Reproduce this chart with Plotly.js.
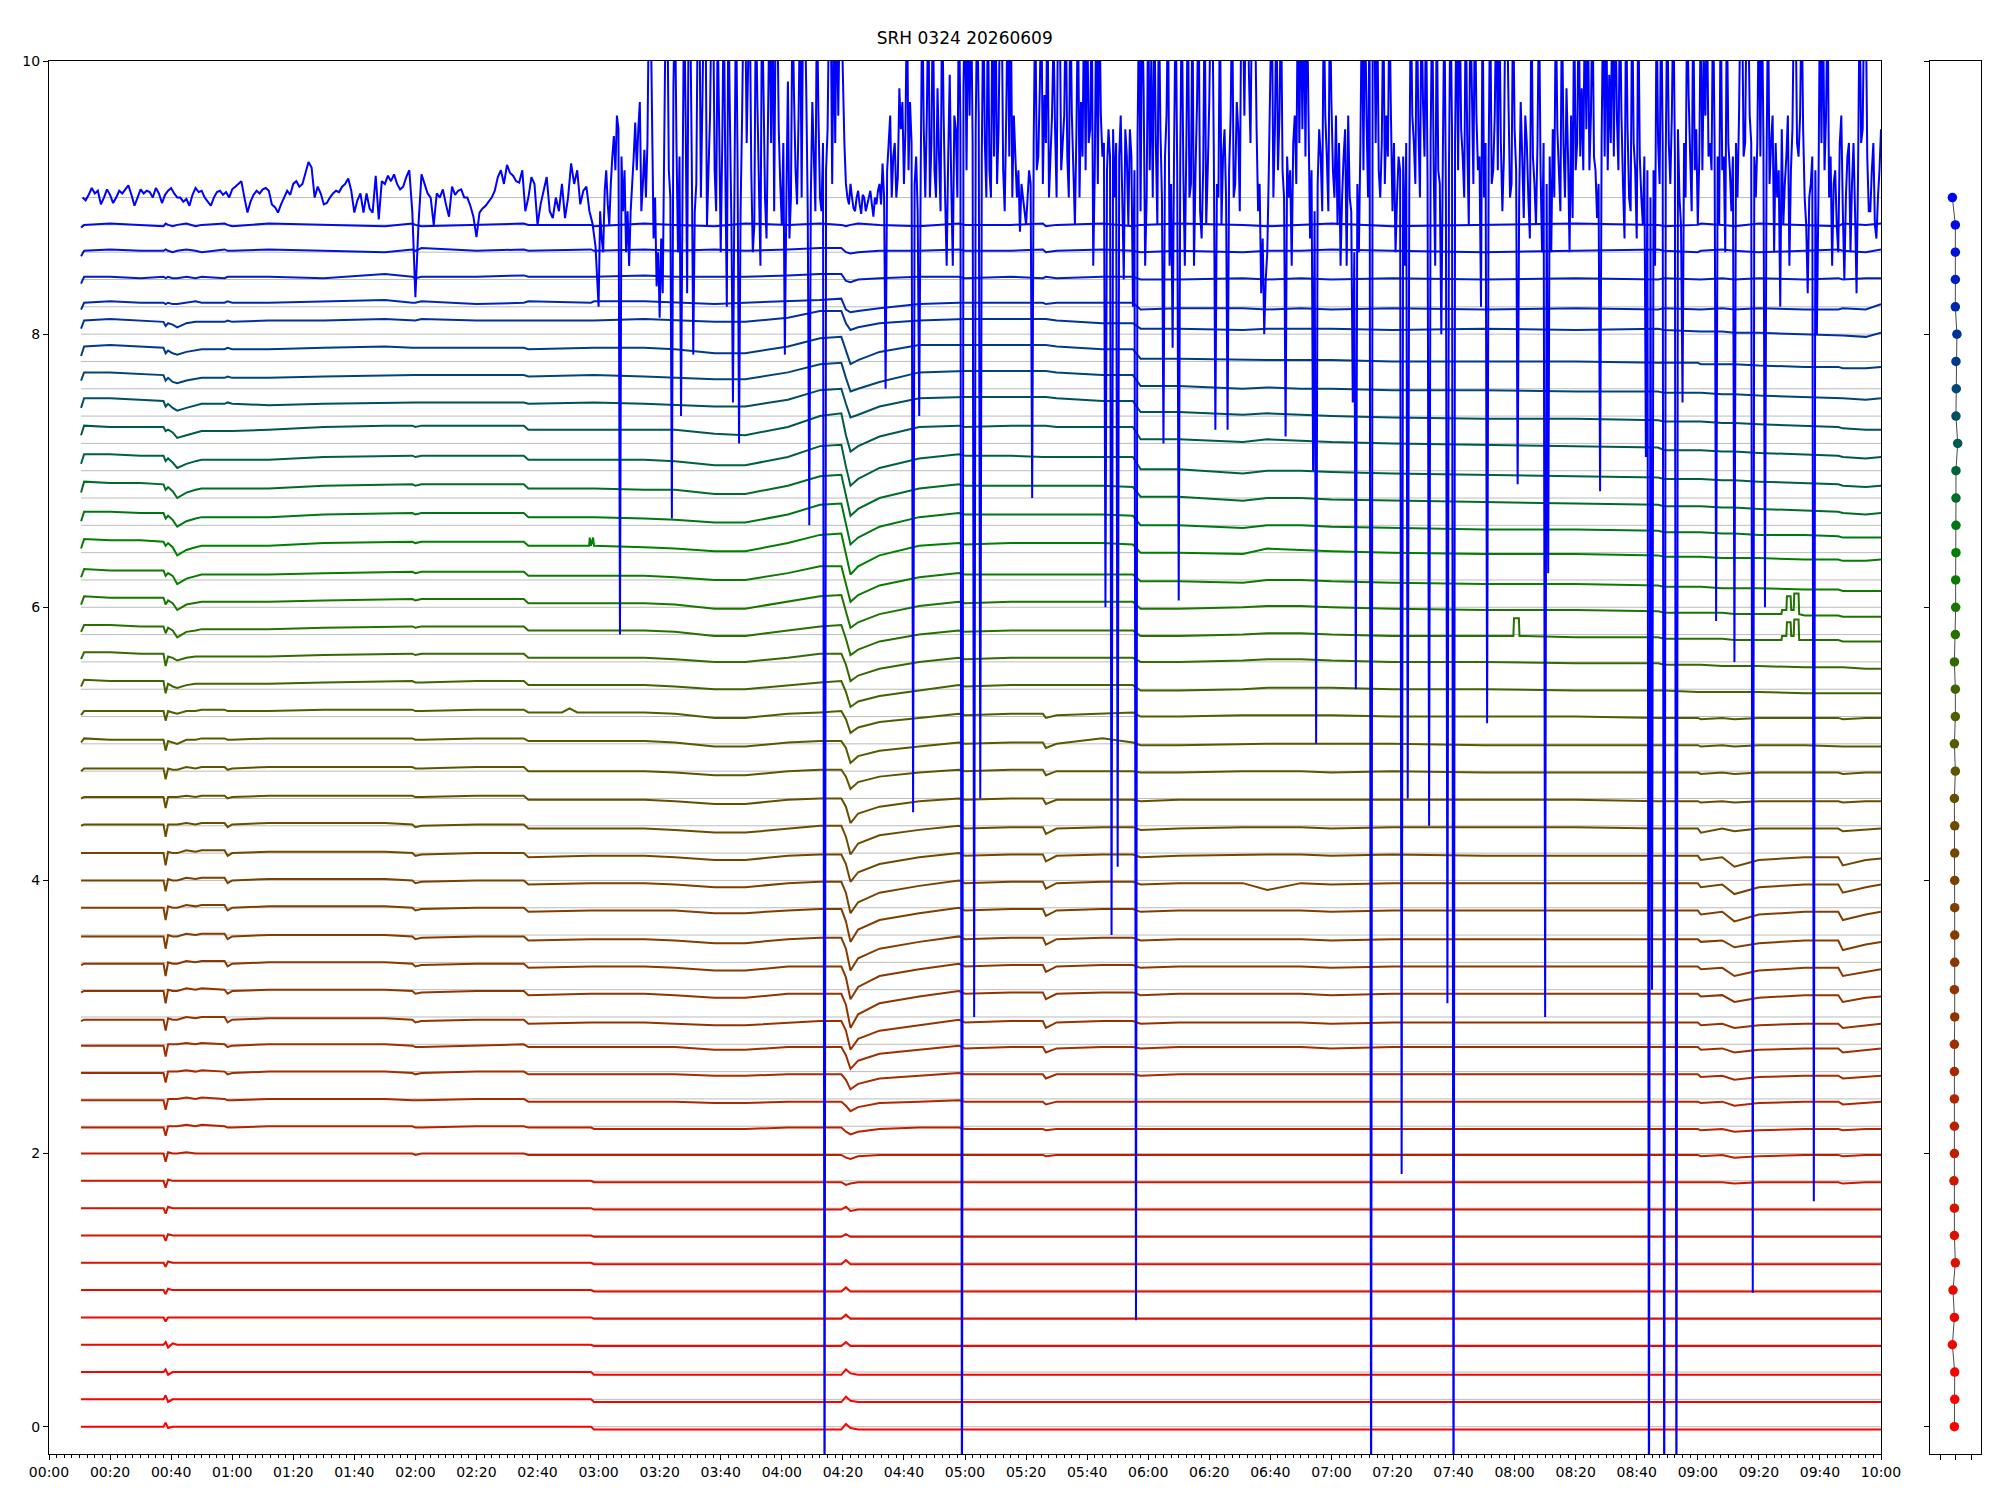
<!DOCTYPE html>
<html>
<head>
<meta charset="utf-8">
<script src="https://cdn.plot.ly/plotly-3.0.1.min.js"></script>
<style>
html,body{margin:0;padding:0;background:#fff;}
#chart{width:2000px;height:1500px;}
</style>
</head>
<body>
<div id="chart"></div>
<script>
// ---------------- DATA ----------------
const titleText = 'SRH 0324 20260609';

// channel levels (stack offsets), bottom to top
const channelOffsets = [0.0,0.2,0.4,0.6,0.8,1.0,1.2,1.4,1.6,1.8,2.0,2.2,2.4,2.6,2.8,3.0,3.2,3.4,3.6,3.8,
  4.0,4.2,4.4,4.6,4.8,5.0,5.2,5.4,5.6,5.8,6.0,6.2,6.4,6.6,6.8,7.0,7.2,7.4,7.6,7.8,8.0,8.2,8.4,8.6,8.8,9.0];

// sample times (minutes after 00:00) shared by channels 0..44
const gridMinutes = [10.5,11.5,20,30, 37.5,38.2,39,40.5,42,45,48,50,57.5,58.5,60, 72,90,110,119,120,122,140,155.5,157,
  177.5,178.5,195,205,218,228,242, 252.5,259.5,261,262.5,265,272,285,298,300,
  315,325.5,326.5,330,345,355,357.5,370,391,399,
  410,420,440,470,500,527,529,540,541,548,552,560,575,586,587.5,595,600];

// deviations of each channel from its level, in units of 0.01
const ch00 = [0,0,0,0, 0,3,-1,0,0,0,0,0,0,0,0, 0,0,0,0,0,0,0,0,0, 0,-2,-2,-2,-2,-2,-2, -2,-2,2,-1,-2,-2,-2,-2,-2, -2,-2,-2,-2,-2,-2,-2,-2,-2,-2, -2,-2,-2,-2,-2,-2,-2,-2,-2,-2,-2,-2,-2,-2,-2,-2,-2];
const ch01 = [0,0,0,0, 0,3,-2,0,0,0,0,0,0,0,0, 0,0,0,0,0,0,0,0,0, 0,-2,-2,-2,-2,-2,-2, -2,-2,2,-1,-2,-2,-2,-2,-2, -2,-2,-2,-2,-2,-2,-2,-2,-2,-2, -2,-2,-2,-2,-2,-2,-2,-2,-2,-2,-2,-2,-2,-2,-2,-2,-2];
const ch02 = [0,0,0,0, 0,2,-2,0,0,0,0,0,0,0,0, 0,0,0,0,0,0,0,0,0, 0,-2,-2,-2,-2,-2,-2, -2,-2,2,-1,-2,-2,-2,-2,-2, -2,-2,-2,-2,-2,-2,-2,-2,-2,-2, -2,-2,-2,-2,-2,-2,-2,-2,-2,-2,-2,-2,-2,-2,-2,-2,-2];
const ch03 = [0,0,0,0, 0,2,-2,1,0,0,0,0,0,0,0, 0,0,0,0,0,0,0,0,0, 0,-1,-1,-1,-1,-1,-1, -1,-1,2,-1,-1,-1,-1,-1,-1, -1,-1,-1,-1,-1,-1,-1,-1,-1,-1, -1,-1,-1,-1,-1,-1,-1,-1,-1,-1,-1,-1,-1,-1,-1,-1,-1];
const ch04 = [0,0,0,0, 0,-3,0,0,0,0,0,0,0,0,0, 0,0,0,0,0,0,0,0,0, 0,-1,-1,-1,-1,-1,-1, -1,-1,2,-1,-1,-1,-1,-1,-1, -1,-1,-1,-1,-1,-1,-1,-1,-1,-1, -1,-1,-1,-1,-1,-1,-1,-1,-1,-1,-1,-1,-1,-1,-1,-1,-1];
const ch05 = [0,0,0,0, 0,-3,1,0,0,0,0,0,0,0,0, 0,0,0,0,0,0,0,0,0, 0,-1,-1,-1,-1,-1,-1, -1,-1,2,-1,-1,-1,-1,-1,-1, -1,-1,-1,-1,-1,-1,-1,-1,-1,-1, -1,-1,-1,-1,-1,-1,-1,-1,-1,-1,-1,-1,-1,-1,-1,-1,-1];
const ch06 = [0,0,0,0, 0,-3,1,0,0,0,0,0,0,0,0, 0,0,0,0,0,0,0,0,0, 0,-1,-1,-1,-1,-1,-1, -1,-1,2,-1,-1,-1,-1,-1,-1, -1,-1,-1,-1,-1,-1,-1,-1,-1,-1, -1,-1,-1,-1,-1,-1,-1,-1,-1,-1,-1,-1,-1,-1,-1,-1,-1];
const ch07 = [0,0,0,0, 0,-4,1,0,0,0,0,0,0,0,0, 0,0,0,0,0,0,0,0,0, 0,-1,-1,-1,-1,-1,-1, -1,-1,1,-1,-1,-1,-1,-1,-1, -1,-1,-1,-1,-1,-1,-1,-1,-1,-1, -1,-1,-1,-1,-1,-1,-1,-1,-1,-1,-1,-1,-1,-1,-1,-1,-1];
const ch08 = [0,0,0,0, 0,-4,1,0,0,0,0,0,0,0,0, 0,0,0,0,0,0,0,0,0, 0,-1,-1,-1,-1,-1,-1, -1,-1,1,-2,-1,-1,-1,-1,-1, -1,-1,-1,-1,-1,-1,-1,-1,-1,-1, -1,-1,-1,-1,-1,-1,-1,-1,-1,-1,-1,-1,-1,-1,-1,-1,-1];
const ch09 = [0,0,0,0, 0,-5,1,0,0,0,0,0,0,0,0, 0,0,0,0,0,0,0,0,0, 0,-1,-1,-1,-1,-1,-1, -1,-1,-3,-2,-1,-1,-1,-1,-1, -1,-1,-1,-1,-1,-1,-1,-1,-1,-1, -1,-1,-1,-1,-1,-1,-1,-1,-1,-1,-2,-1,-1,-1,-2,-1,-1];
const ch10 = [0,0,0,0, 0,-6,1,0,0,1,0,0,0,0,0, 0,0,0,0,-1,0,0,0,-1, -1,-1,-1,-1,-1,-1,-1, -1,-1,-3,-4,-2,-1,-1,-1,-1, -1,-1,-2,-1,-1,-1,-1,-1,-1,-1, -1,-1,-1,-1,-1,-1,-1,-1,-2,-1,-3,-2,-1,-1,-2,-1,-1];
const ch11 = [-1,-1,-1,-1, -1,-7,0,0,0,1,0,1,0,-1,-1, 0,0,0,0,-1,-1,0,0,-1, -1,-2,-2,-2,-2,-2,-1, -1,-1,-4,-6,-4,-2,-1,-1,-2, -2,-2,-3,-2,-2,-2,-2,-2,-2,-2, -2,-2,-2,-2,-2,-2,-2,-2,-3,-2,-4,-3,-2,-2,-3,-2,-2];
const ch12 = [-1,-1,-1,-1, -1,-8,0,0,0,1,0,1,0,-1,-1, 0,0,0,-1,-1,-1,0,0,-2, -2,-2,-2,-2,-3,-3,-2, -2,-2,-5,-9,-6,-3,-2,-1,-2, -2,-2,-4,-2,-2,-2,-2,-2,-2,-2, -2,-2,-2,-2,-2,-2,-2,-2,-3,-2,-5,-3,-2,-2,-4,-3,-2];
const ch13 = [-1,-1,-1,-1, -1,-8,0,0,0,1,0,1,0,-2,-1, 0,0,0,-1,-2,-1,0,0,-2, -2,-2,-2,-2,-3,-3,-2, -2,-2,-6,-13,-9,-5,-3,-1,-2, -2,-2,-5,-2,-2,-2,-3,-2,-2,-2, -2,-2,-2,-2,-2,-2,-2,-2,-4,-3,-6,-4,-3,-3,-5,-4,-3];
const ch14 = [-1,-1,-1,-1, -1,-9,0,0,0,1,0,1,0,-2,-1, 0,0,0,-1,-2,-2,-1,0,-2, -2,-2,-2,-2,-4,-4,-2, -2,-2,-8,-18,-12,-7,-4,-1,-3, -2,-2,-6,-3,-2,-2,-3,-2,-2,-2, -2,-3,-2,-2,-2,-2,-2,-2,-4,-3,-6,-4,-3,-3,-6,-4,-3];
const ch15 = [-3,-2,-2,-2, -2,-10,-1,-2,-2,0,-1,0,0,-4,-2, -1,-1,-1,-2,-4,-3,-2,-2,-5, -4,-4,-4,-5,-6,-6,-4, -3,-3,-10,-24,-16,-10,-6,-2,-4, -3,-3,-8,-4,-3,-3,-5,-4,-4,-4, -4,-5,-4,-4,-4,-4,-4,-4,-6,-5,-8,-6,-5,-5,-8,-6,-5];
const ch16 = [-2,-1,-1,-1, -1,-10,0,-1,-1,1,0,1,0,-3,-1, 0,0,0,-1,-3,-2,-1,-1,-4, -3,-3,-3,-4,-6,-6,-3, -3,-3,-11,-28,-18,-10,-5,-1,-3, -2,-2,-7,-3,-2,-2,-4,-3,-3,-3, -3,-4,-3,-3,-3,-3,-3,-3,-5,-4,-9,-6,-4,-4,-9,-6,-5];
const ch17 = [-2,-1,-1,-1, -1,-10,0,-1,-1,1,0,1,1,-3,-1, 0,0,0,-1,-3,-2,-1,-1,-4, -3,-3,-3,-4,-6,-6,-3, -3,-3,-11,-27,-18,-10,-5,-1,-3, -2,-2,-7,-3,-2,-2,-4,-3,-3,-3, -3,-4,-3,-3,-3,-3,-3,-3,-5,-4,-10,-6,-4,-4,-10,-7,-5];
const ch18 = [-1,-1,-1,-1, -1,-10,0,-1,-1,1,0,1,1,-3,-1, 0,0,0,-1,-3,-2,-1,-1,-4, -3,-3,-3,-4,-6,-6,-3, -2,-2,-10,-26,-17,-10,-5,-1,-3, -2,-2,-7,-3,-2,-2,-4,-3,-3,-3, -3,-4,-3,-3,-3,-3,-3,-3,-5,-4,-9,-6,-4,-4,-11,-7,-5];
const ch19 = [0,0,0,0, 0,-9,1,0,0,2,1,2,2,-2,0, 1,1,1,0,-2,-1,0,0,-3, -2,-2,-2,-2,-4,-4,-2, -1,-1,-10,-25,-16,-9,-4,0,-2, -1,-1,-6,-2,-1,-1,-3,-2,-2,-2, -2,-3,-2,-2,-2,-2,-2,-2,-5,-3,-10,-5,-3,-3,-9,-5,-3];
const ch20 = [0,0,0,0, 0,-8,1,0,0,2,1,2,2,-2,0, 1,1,1,0,-2,-1,0,0,-3, -2,-2,-2,-3,-5,-5,-2, -1,-1,-9,-24,-16,-9,-4,0,-2, -1,-1,-6,-2,-1,-1,-3,-2,-2,-7, -2,-3,-2,-2,-2,-2,-2,-2,-5,-3,-10,-5,-3,-3,-9,-5,-3];
const ch21 = [0,0,0,0, 0,-9,1,0,0,2,1,2,2,-2,0, 1,1,1,0,-2,-1,0,0,-3, -2,-2,-2,-3,-5,-5,-2, -1,-1,-8,-21,-14,-8,-3,0,-2, -1,-1,-6,-2,-1,-1,-3,-2,-1,-1, -1,-2,-1,-2,-2,-2,-2,-2,-5,-3,-10,-5,-3,-3,-9,-5,-4];
const ch22 = [0,1,1,1, 1,-8,1,1,1,2,1,2,2,-1,1, 2,2,2,1,-1,0,1,1,-2, -2,-2,-2,-3,-5,-5,-2, 0,0,-8,-21,-13,-7,-3,0,-2, -1,-1,-6,-2,-1,-1,-3,-2,-1,-1, -1,-2,-1,-1,-1,-2,-2,-2,-5,-2,-4,-2,-2,-2,-4,-3,-2];
const ch23 = [0,1,1,1, 1,-7,1,1,1,2,1,2,2,0,1, 2,2,2,2,1,1,2,2,-1, -1,-1,-1,-2,-4,-4,-1, 0,0,-6,-18,-11,-6,-2,0,-1, 0,0,-4,-1,-1,-1,-2,-1,-1,-1, -1,-1,-1,-1,-1,-2,-2,-2,-3,-2,-3,-2,-2,-2,-3,-2,-2];
const ch24 = [0,2,2,2, 2,-6,2,1,1,3,2,3,3,1,2, 3,3,3,3,2,2,3,3,0, 0,0,0,-1,-3,-3,0, 1,1,-4,-13,-8,-4,-1,1,0, 1,1,-3,0,0,0,-1,-1,0,0, 0,-1,0,-1,-1,-1,-1,-1,-2,-1,-2,-1,-1,-1,-2,-1,-1];
const ch25 = [1,4,3,3, 3,-5,2,1,0,3,3,4,4,3,3, 4,4,4,4,3,3,4,4,2, 2,2,2,1,-2,-2,1, 2,2,-3,-14,-9,-5,-2,1,0, 1,1,-3,0,4,1,-1,-1,0,0, 0,0,0,-1,-1,-1,-1,-1,-2,-1,-2,-1,-1,-2,-2,-2,-2];
const ch26 = [1,4,4,4, 4,-3,4,3,2,4,4,5,5,4,4, 4,5,5,5,4,4,5,5,3, 3,3,3,2,-1,-1,2, 3,4,-2,-12,-8,-4,-1,2,1, 2,2,-1,1,2,3,0,0,1,1, 1,1,0,0,0,-1,-1,-1,-2,-1,-2,-1,-1,-1,-2,-1,-1];
const ch27 = [2,7,6,6, 6,-3,4,2,1,3,4,4,4,4,4, 4,5,6,6,5,5,6,6,3, 3,3,3,2,0,0,3, 5,6,-2,-13,-9,-5,-1,3,2, 3,3,3,3,3,3,-1,-1,0,1, 1,1,0,0,-1,-1,-1,-2,-2,-2,-2,-2,-3,-3,-3,-3,-3];
const ch28 = [2,7,7,6, 6,-3,4,3,1,3,4,4,4,4,4, 4,5,6,6,5,6,6,6,3, 3,3,3,2,0,0,3, 6,6,-2,-14,-10,-5,0,3,2, 3,3,3,3,3,3,0,0,1,2, 2,1,0,0,-1,-1,-2,-2,-2,-3,-3,-3,-4,-4,-4,-5,-5];
const ch29 = [2,7,7,6, 6,1,5,3,-2,2,3,4,4,4,4, 4,5,6,6,5,6,6,6,3, 3,3,3,2,-1,-1,3, 6,7,-3,-15,-11,-5,0,3,2, 3,3,3,3,3,3,-1,-1,0,1, 1,0,-1,-1,-2,-2,-3,-3,-3,-3,-4,-4,-4,-4,-5,-5,-5];
const ch30 = [2,8,7,7, 7,2,5,3,-2,2,3,4,4,4,4, 4,5,6,6,5,6,6,6,3, 3,3,3,2,-1,-1,4, 8,9,-3,-15,-11,-5,1,4,3, 4,4,4,4,4,4,-1,-1,0,1, 1,0,-1,-2,-2,-3,-4,-4,-4,-4,-5,-5,-6,-6,-7,-7,-7];
const ch31 = [2,8,7,7, 7,3,5,3,-3,1,3,4,4,4,4, 4,5,6,6,5,6,6,6,3, 3,3,3,2,0,0,5, 10,10,-3,-16,-11,-4,2,5,4, 4,4,4,4,4,4,-1,-1,-2,0, 0,-1,-2,-3,-3,-4,-5,-5,-5,-6,-6,-6,-7,-7,-8,-8,-8];
const ch32 = [3,10,9,9, 8,5,7,4,-2,2,4,5,5,5,5, 5,7,8,8,7,8,8,8,5, 5,5,4,3,1,1,7, 13,14,0,-16,-10,-2,5,7,6, 7,7,7,7,7,6,0,0,-1,3, 2,1,0,-1,-1,-2,-3,-3,-3,-4,-4,-4,-5,-5,-6,-6,-5];
const ch33 = [3,10,10,9, 9,5,7,4,-1,3,5,6,6,6,6, 6,8,9,9,8,9,9,9,6, 6,6,5,4,2,2,8, 15,16,1,-14,-9,-1,6,9,8, 8,8,8,8,8,7,0,0,-2,0, 0,-1,-2,-3,-3,-4,-5,-5,-5,-6,-6,-7,-7,-8,-9,-9,-9];
const ch34 = [4,12,11,11, 10,6,8,5,0,4,6,7,7,7,7, 7,9,10,10,9,10,10,10,7, 7,7,6,6,3,3,9, 16,17,2,-13,-8,0,7,10,9, 9,9,9,9,9,8,1,1,-2,0, 0,-1,-2,-3,-4,-5,-6,-6,-6,-7,-7,-8,-9,-10,-11,-12,-11];
const ch35 = [5,12,12,11, 11,7,9,6,2,5,7,8,8,8,8, 8,10,11,11,10,11,11,11,8, 8,8,8,7,4,4,10, 18,19,3,-11,-6,2,9,12,11, 11,10,10,10,10,10,1,1,-2,0, 0,-1,-2,-3,-4,-5,-6,-6,-6,-7,-7,-8,-9,-10,-11,-12,-11];
const ch36 = [6,13,12,12, 12,9,10,8,4,6,8,9,9,9,9, 10,12,13,13,12,13,13,13,10, 10,10,10,10,7,6,12, 20,22,6,-6,-2,5,12,13,12, 13,13,13,12,12,12,3,3,1,3, 2,1,0,-1,-2,-3,-5,-5,-5,-6,-6,-7,-8,-9,-10,-11,-10];
const ch37 = [6,13,13,12, 11,7,9,6,4,6,8,9,9,10,9, 8,9,10,10,10,10,10,10,9, 10,10,9,8,7,7,12, 19,20,9,-1,1,7,13,14,14, 14,14,14,13,11,11,3,3,1,2, 1,0,-1,-2,-2,-3,-4,-4,-4,-5,-5,-6,-7,-8,-9,-10,-10];
const ch38 = [6,12,12,11, 10,6,8,5,4,6,7,8,8,9,8, 8,9,10,10,10,10,10,10,9, 10,10,9,8,7,7,12, 18,19,8,-2,0,5,12,13,13, 13,13,13,12,10,10,2,2,0,1, 0,0,-1,-1,-2,-2,-3,-3,-3,-4,-4,-5,-6,-7,-7,-8,-7];
const ch39 = [4,11,12,11, 10,6,8,6,5,7,8,9,9,10,9, 9,10,11,10,10,10,10,10,9, 10,10,10,9,6,6,11, 17,18,8,-2,1,7,12,12,12, 12,12,12,11,9,9,2,2,1,1, 1,1,0,0,0,-1,-1,-1,-2,-2,-2,-3,-4,-4,-5,-5,-4];
const ch40 = [4,10,11,10, 9,6,8,7,5,8,9,9,9,10,9, 10,10,11,10,10,11,10,10,10, 10,10,11,10,9,9,12, 17,17,8,3,5,8,10,11,11, 11,11,11,10,8,8,4,4,3,4, 4,4,3,4,3,4,3,2,2,2,1,1,0,-1,-1,-2,1];
const ch41 = [-2,3,4,3, 3,2,3,2,2,3,4,3,3,4,3, 3,4,5,3,3,4,2,3,4, 3,4,4,3,2,3,4, 5,6,-2,-4,-3,-1,2,3,3, 3,3,2,3,3,3,-2,-1,-1,-2, -1,-2,-1,-2,-1,-2,-1,-2,-2,-1,-2,-1,-2,-2,-1,-2,2];
const ch42 = [-3,2,2,1, 2,1,2,1,1,2,1,2,1,2,2, 2,1,4,2,1,2,2,3,2, 2,2,3,2,2,2,3, 4,4,-1,-2,0,1,2,2,1, 2,1,2,1,2,2,0,0,1,0, 1,0,1,0,1,0,1,0,0,1,0,1,0,1,0,1,1];
const ch43 = [-3,1,2,1, 1,2,1,0,1,2,1,0,2,1,1, 2,1,0,2,1,3,1,2,1, 2,1,2,1,2,1,2, 3,3,0,-1,0,1,1,2,1, 1,2,0,1,2,1,0,1,0,1, 1,2,1,0,1,2,1,0,1,2,1,0,1,2,1,0,2];
const ch44 = [-2,0,1,0, -1,1,0,-1,0,1,-1,0,1,0,-1, 1,0,-1,1,0,-1,0,1,0, 0,-1,1,0,-1,1,0, 1,0,-1,0,1,0,-1,1,0, 0,1,-1,0,1,-1,0,1,0,-1, 0,1,-1,0,1,0,-1,0,1,0,-1,1,0,-1,1,0,1];

// short pulses / bumps on single channels (minutes, deviation in 0.01)
const bumpT26 = [168,170.5,173];            const bumpV26 = [3,6,3];
const pulseT29 = [479.6,479.8,481.4,481.6, 567.4,567.6,569.0,569.2,570.4,570.6,571.4,571.6,573.0,573.2];
const pulseV29 = [-1,12,12,-1, -4,-1,-1,9,9,-1,-1,11,11,-4];
const pulseT30 = [567.4,567.6,569.0,569.2,570.4,570.6,571.4,571.6,573.0,573.2];
const pulseV30 = [-5,-2,-2,8,8,-2,-2,10,10,-5];
const pulseT32 = [176.9,177.1,178.2,178.4]; const pulseV32 = [5,11,11,5];

// top channel (level 9.0): one sample per minute from minute 11 to 600 (absolute values)
const topStartMinute = 11;
const topValues = [
9.0,8.98,9.02,9.07,9.03,9.05,8.95,9.0,9.06,9.02,
8.96,9.0,9.05,9.03,9.06,9.09,9.02,8.94,9.0,9.06,
9.03,9.05,9.04,9.0,9.07,9.03,8.96,9.02,9.05,9.07,
9.03,9.0,9.0,8.97,8.99,8.94,9.02,9.07,9.04,9.05,
9.0,8.97,8.94,9.0,9.04,9.05,9.02,9.04,9.0,9.06,
9.08,9.1,9.12,9.0,8.89,8.97,9.02,9.05,9.03,9.06,
9.07,9.05,8.95,8.93,8.89,8.95,9.0,9.05,9.02,9.1,
9.12,9.08,9.1,9.18,9.26,9.22,9.0,9.08,9.03,8.95,
8.96,9.0,9.03,9.05,9.04,9.08,9.1,9.14,9.05,8.89,
8.98,9.03,8.89,9.03,8.92,8.89,9.16,8.84,9.12,9.1,
9.16,9.12,9.17,9.1,9.06,9.08,9.15,9.2,8.89,8.27,
8.8,9.17,9.1,9.03,9.0,8.8,9.03,9.0,9.06,8.95,
8.86,9.08,9.02,9.05,9.06,9.0,9.0,8.94,8.86,8.71,
8.89,8.92,8.94,8.97,9.0,9.05,9.15,9.2,9.1,9.24,
9.18,9.16,9.12,9.11,9.2,8.9,9.0,9.15,9.1,8.8,
8.95,9.05,9.15,8.9,8.85,9.0,8.9,9.1,8.85,9.0,
9.25,9.1,9.2,8.95,9.05,9.08,8.9,8.81,8.64,8.2,
8.7,9.05,8.95,9.1,9.45,9.6,5.8,8.9,8.6,8.5,
9.1,9.55,9.5,8.9,9.35,9.4,10.5,8.7,8.35,8.12,
8.3,10.5,9.2,6.65,10.5,8.6,7.4,10.5,8.3,10.4,
7.85,9.1,10.5,9.7,10.5,9.2,10.5,9.2,10.3,8.6,
10.5,8.2,9.6,7.5,10.5,7.2,9.6,10.5,10.0,9.2,
8.8,9.7,8.5,9.8,8.7,10.5,10.5,10.4,9.5,8.8,
7.85,9.85,9.0,9.75,8.95,10.5,10.5,9.8,6.6,9.7,
8.9,9.6,8.9,-1,9.5,10.5,10.3,10.5,10.5,9.9,
9.1,8.95,9.0,8.9,9.05,8.88,9.0,8.95,9.05,8.86,
8.95,9.1,9.25,7.6,9.4,9.0,9.4,9.15,9.5,9.1,
10.5,9.7,4.5,9.3,7.4,10.5,9.0,10.5,9.4,9.2,
9.8,8.9,9.6,8.5,9.9,8.5,9.5,10.5,-1,10.5,
10.5,10.5,3.0,10.5,4.6,10.5,9.0,9.2,10.5,10.5,
9.5,10.5,8.9,10.5,10.5,9.6,9.0,8.75,9.0,8.8,
9.2,6.8,10.5,9.3,10.5,9.75,10.5,9.3,10.2,9.0,
10.5,9.4,10.5,9.0,9.6,8.8,10.5,9.7,10.5,10.5,
9.5,8.5,10.5,10.5,9.3,6.0,9.5,3.6,9.0,4.1,
9.6,8.4,9.3,9.5,8.2,0.78,10.5,10.5,8.5,10.5,
10.0,10.5,8.8,9.5,7.2,9.6,8.5,7.9,10.5,6.05,
10.5,8.5,10.5,9.1,8.5,9.7,8.9,9.2,8.8,9.7,
10.5,7.3,9.0,8.8,9.5,7.3,9.6,9.0,9.7,8.9,
10.5,10.5,9.9,10.5,10.4,8.9,8.3,8.0,8.6,9.9,
9.0,10.5,9.6,9.2,7.25,9.0,8.5,9.6,10.5,10.5,
10.5,10.5,8.7,7.0,5.0,9.5,8.9,9.6,8.9,9.7,
9.0,8.8,8.5,9.3,8.5,9.0,7.5,5.4,8.6,10.5,
10.5,9.0,-1,10.5,10.5,9.0,10.5,9.6,10.5,8.9,
8.6,9.3,1.85,8.5,4.6,10.5,9.4,10.5,9.0,9.7,
10.5,4.4,10.5,8.5,9.2,8.0,10.5,3.1,10.5,-1,
10.5,10.5,9.3,10.5,8.8,9.8,10.5,9.2,8.2,9.0,
5.15,10.5,9.2,10.5,10.5,8.9,10.5,9.7,9.1,9.5,
6.9,9.7,8.85,9.4,8.7,9.3,8.8,10.5,8.6,3.0,
6.25,8.6,9.0,9.5,8.9,9.4,9.8,8.6,8.85,9.2,
10.5,9.8,10.5,10.5,9.6,9.3,8.85,6.85,10.5,10.5,
9.9,10.5,10.5,9.2,9.6,8.7,9.5,8.9,9.4,8.7,
9.3,8.8,7.1,-1,3.2,8.5,9.4,10.5,-1,10.5,
9.1,10.5,-1,9.0,7.5,9.0,9.75,8.9,9.2,8.8,
10.5,10.0,10.5,9.4,10.5,5.9,8.8,9.2,8.6,9.4,
8.9,5.6,9.0,10.5,9.3,10.5,9.6,0.98,9.0,10.5,
10.5,6.0,10.5,9.4,8.6,9.0,8.2,8.8,9.3,8.5,
9.5,10.5,9.3,10.5,9.0,8.3,9.1,1.65,8.0,10.5,
10.5,9.6,9.0,8.5,9.2,8.6,9.6,8.4,9.3,8.6,
9.4,8.3,10.5,9.5,10.5,8.9,9.2,8.8,9.0,9.5
];
// top channel, extra half-minute samples from minute 180.5 to 599.5 (absolute values)
const topHalfStartMinute = 180.5;
const topHalfValues = [
8.9,8.6,9.2,8.8,9.3,9.2,9.5,9.3,9.2,8.9,
8.9,9.3,9.2,9.7,9.1,9.0,10.5,9.6,9.0,8.6,
8.7,9.4,10.5,9.0,9.8,9.4,9.3,9.1,9.6,10.5,
9.3,8.9,10.5,9.0,10.5,8.8,9.6,10.5,8.9,9.5,
9.4,9.2,10.5,8.8,9.1,9.3,8.9,10.5,9.4,10.5,
8.6,10.5,9.1,10.5,9.0,9.6,9.4,8.9,10.5,9.1,
9.4,9.0,8.7,10.5,9.2,9.6,9.0,10.5,8.9,9.0,
9.3,10.5,9.0,9.4,9.2,10.5,9.1,9.4,9.6,10.5,
9.4,9.0,9.1,8.92,9.0,8.95,9.02,8.9,9.0,8.95,
9.0,9.05,8.95,9.0,9.2,9.6,9.3,9.0,9.8,9.7,
9.5,9.2,9.4,9.1,8.9,9.2,9.5,9.6,9.0,10.5,
9.0,9.3,10.5,9.0,9.3,9.1,9.6,9.0,9.5,9.8,
9.2,9.6,9.4,9.5,9.6,9.3,9.4,10.5,9.0,9.3,
9.1,10.5,9.2,9.6,9.3,9.0,9.3,9.2,9.1,8.9,
9.0,9.1,9.4,9.2,9.8,9.1,9.4,9.0,9.6,9.5,
10.5,9.2,9.6,9.3,10.5,9.2,9.5,9.0,9.3,9.2,
9.4,10.5,9.2,9.1,9.6,9.4,9.2,9.3,9.5,9.4,
9.3,9.0,9.5,8.8,9.3,9.2,9.4,8.9,9.8,9.0,
9.2,9.0,9.4,10.5,9.0,9.3,10.5,9.1,9.4,9.2,
9.3,9.2,9.4,9.0,10.5,9.2,10.5,8.7,10.5,9.2,
10.5,9.3,9.1,10.5,9.3,9.0,9.2,10.5,9.1,9.5,
10.5,9.6,10.5,9.4,10.5,9.5,9.1,8.7,8.4,9.2,
10.5,9.5,9.2,10.5,9.0,9.3,9.2,9.4,9.1,9.4,
9.5,9.3,9.6,9.2,8.9,9.1,9.3,10.5,9.3,10.5,
9.2,9.6,9.4,9.0,9.5,9.6,8.9,8.6,9.1,9.4,
9.2,9.6,10.5,10.0,9.4,9.2,9.4,9.1,9.3,9.6,
9.4,9.0,9.2,9.3,9.4,9.0,9.6,9.1,9.5,10.5,
9.3,9.1,9.4,9.2,10.5,9.1,9.3,9.0,9.2,9.5,
9.4,9.2,9.5,9.0,9.4,10.5,9.1,9.6,9.3,10.5,
9.4,9.3,9.1,9.6,9.2,9.4,9.3,10.5,9.0,10.5,
9.2,9.0,9.3,9.6,9.0,10.5,9.1,9.4,9.2,9.4,
9.1,9.3,9.5,10.5,9.2,10.5,9.0,9.3,9.6,10.5,
9.4,9.3,9.2,9.5,9.2,10.5,9.2,9.1,9.4,9.3,
9.2,9.4,9.3,9.6,10.5,9.1,10.5,9.0,10.5,9.2,
10.5,9.0,9.3,9.2,9.0,9.2,10.5,9.1,9.4,9.3,
9.4,9.6,9.3,9.5,8.8,9.4,10.5,9.3,10.5,9.5,
9.3,9.2,9.6,9.3,9.2,9.4,9.3,10.5,9.3,10.5,
9.2,9.3,9.4,9.6,10.5,9.4,10.5,9.4,9.3,9.4,
9.3,9.4,9.2,9.1,9.6,9.4,9.2,9.5,9.1,9.6,
9.2,10.5,9.4,9.6,9.5,8.8,9.0,9.3,9.2,9.0,
9.4,9.2,10.5,9.3,9.1,8.8,9.4,8.9,9.0,9.4,
9.1,8.9,9.2,9.4,10.5,9.3,8.9,9.4,8.7,9.2
];

// side panel: horizontal position of each channel marker
const panelX = [-0.08,-0.06,-0.06,-0.21,-0.08,-0.17,-0.02,-0.08,-0.08,-0.11,-0.08,-0.08,-0.08,-0.08,-0.08,-0.06,
  -0.08,-0.06,-0.06,-0.06,-0.06,-0.06,-0.06,-0.08,-0.02,-0.08,-0.02,-0.02,-0.08,-0.02,0,0,0.02,0.02,0.02,0.02,
  0.13,0.02,0.04,0.02,0.08,-0.02,-0.02,-0.02,-0.02,-0.21];

// ---------------- BUILD ----------------
const devUnit = 0.01;
const channelDev = [ch00,ch01,ch02,ch03,ch04,ch05,ch06,ch07,ch08,ch09,ch10,ch11,ch12,ch13,ch14,ch15,ch16,ch17,ch18,ch19,
  ch20,ch21,ch22,ch23,ch24,ch25,ch26,ch27,ch28,ch29,ch30,ch31,ch32,ch33,ch34,ch35,ch36,ch37,ch38,ch39,ch40,ch41,ch42,ch43,ch44];
const extras = {26:[bumpT26,bumpV26], 29:[pulseT29,pulseV29], 30:[pulseT30,pulseV30], 32:[pulseT32,pulseV32]};

const BASE = Date.UTC(2026,5,9,0,0,0);
function stamp(m){ return new Date(BASE + Math.round(m*60000)).toISOString().slice(0,23).replace('T',' '); }

// colour palette (style): red -> brown -> green -> blue
const colorAnchors = [[0,[255,0,0]],[8,[210,22,0]],[15,[150,50,0]],[20,[122,66,0]],[25,[88,90,0]],[29,[40,112,0]],[32,[0,128,0]],[45,[0,0,255]]];
function colorFor(k){
  for (let i=0;i<colorAnchors.length-1;i++){
    const [k0,c0]=colorAnchors[i],[k1,c1]=colorAnchors[i+1];
    if (k>=k0 && k<=k1){ const f=(k-k0)/(k1-k0);
      return 'rgb('+c0.map((v,j)=>Math.round(v+(c1[j]-v)*f)).join(',')+')'; }
  }
  return 'rgb(0,0,255)';
}
const colors = channelOffsets.map((_,k)=>colorFor(k));

const bad = [];
channelDev.forEach((d,k)=>{ if (d.length!==gridMinutes.length) bad.push(k+':'+d.length); });
if (topValues.length !== 590) bad.push('top:'+topValues.length);
if (topHalfValues.length !== 420) bad.push('half:'+topHalfValues.length);

const data = [];
const tEnd = 600;
const LW = 2.0;
channelOffsets.forEach(off=>{
  data.push({x:[stamp(gridMinutes[0]), stamp(tEnd)], y:[off,off], mode:'lines', type:'scatter',
    line:{color:'#bcbcbc', width:1}, hoverinfo:'skip', showlegend:false, xaxis:'x', yaxis:'y'});
});
channelDev.forEach((dev,k)=>{
  let pts = gridMinutes.map((t,i)=>[t, dev[i]]);
  if (extras[k]) { extras[k][0].forEach((t,i)=>pts.push([t, extras[k][1][i]])); pts.sort((a,b)=>a[0]-b[0]); }
  data.push({x:pts.map(p=>stamp(p[0])), y:pts.map(p=>channelOffsets[k]+p[1]*devUnit), mode:'lines', type:'scatter',
    line:{color:colors[k], width:LW}, hoverinfo:'skip', showlegend:false, xaxis:'x', yaxis:'y'});
});
let topPts = topValues.map((v,i)=>[topStartMinute+i, v]);
topHalfValues.forEach((v,i)=>topPts.push([topHalfStartMinute+i, v]));
topPts.sort((a,b)=>a[0]-b[0]);
data.push({x:topPts.map(p=>stamp(p[0])), y:topPts.map(p=>p[1]), mode:'lines', type:'scatter',
  line:{color:colors[45], width:LW, simplify:false}, hoverinfo:'skip', showlegend:false, xaxis:'x', yaxis:'y'});

data.push({x:panelX, y:channelOffsets, mode:'lines', type:'scatter', line:{color:'#4a4a4a', width:1},
  hoverinfo:'skip', showlegend:false, xaxis:'x2', yaxis:'y2'});
data.push({x:panelX, y:channelOffsets, mode:'markers', type:'scatter', marker:{color:colors, size:9.5, line:{width:0}},
  hoverinfo:'skip', showlegend:false, xaxis:'x2', yaxis:'y2'});

const axisCommon = {showline:true, linecolor:'#000', linewidth:1, mirror:true, showgrid:false, zeroline:false,
  ticks:'outside', ticklen:5, tickwidth:1, tickcolor:'#000'};
const layout = {
  width:2000, height:1500, margin:{l:49, r:19, t:61, b:46, pad:0},
  paper_bgcolor:'#fff', plot_bgcolor:'#fff', showlegend:false,
  font:{family:'DejaVu Sans, sans-serif', size:14, color:'#000'},
  title:{text:titleText, font:{family:'DejaVu Sans, sans-serif', size:17, color:'#000'},
    xref:'paper', x:0.474, xanchor:'center', yref:'container', y:1-38.5/1500, yanchor:'middle'},
  xaxis:Object.assign({}, axisCommon, {domain:[0,0.94824], type:'date', range:[stamp(0), stamp(600)],
    tickformat:'%H:%M', tick0:stamp(0), dtick:1200000, tickfont:{size:14},
    minor:{dtick:150000, tick0:stamp(0), ticks:'outside', ticklen:3, tickwidth:1, tickcolor:'#000', showgrid:false}}),
  yaxis:Object.assign({}, axisCommon, {domain:[0,1], range:[-0.2,10], tick0:0, dtick:2, tickfont:{size:14}}),
  xaxis2:Object.assign({}, axisCommon, {domain:[0.9736,1], anchor:'y2', range:[-1.64,1.62], tickmode:'array',
    tickvals:[-1,0,1], showticklabels:false}),
  yaxis2:Object.assign({}, axisCommon, {domain:[0,1], anchor:'x2', range:[-0.2,10], tick0:0, dtick:2, showticklabels:false})
};
if (bad.length) layout.annotations = [{text:'LENGTH MISMATCH '+bad.join(' '), xref:'paper', yref:'paper', x:0.5, y:0.5, showarrow:false, font:{size:30,color:'magenta'}}];

Plotly.newPlot('chart', data, layout, {staticPlot:true, displayModeBar:false});
</script>
</body>
</html>
